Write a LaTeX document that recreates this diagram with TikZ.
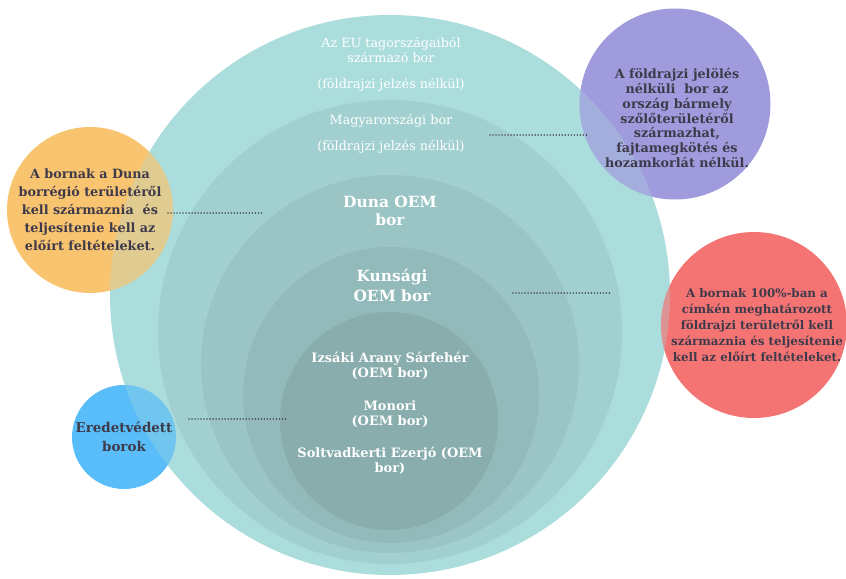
\documentclass[tikz,border=0pt]{standalone}
\usepackage{fontspec}
\setmainfont{DejaVu Serif}
\definecolor{ringA}{HTML}{ABDDDC}
\definecolor{ringB}{HTML}{A2D0D0}
\definecolor{ringC}{HTML}{9BC5C5}
\definecolor{ringD}{HTML}{93BABA}
\definecolor{ringE}{HTML}{88ADAC}
\definecolor{orangeC}{HTML}{F8C470}
\definecolor{purpleC}{HTML}{A09BDD}
\definecolor{redC}{HTML}{F47474}
\definecolor{blueC}{HTML}{58BDF8}
\definecolor{darktext}{HTML}{3E3A4A}
\begin{document}
\begin{tikzpicture}[x=1bp,y=-1bp,
  ringtext/.style={text=white, align=center, inner sep=0pt},
  smalltext/.style={ringtext, font=\fontsize{12.8}{12}\selectfont},
  midtext/.style={ringtext, font=\bfseries\fontsize{13}{15.5}\selectfont},
  bigtext/.style={ringtext, font=\bfseries\fontsize{15.5}{17.5}\selectfont},
  sidecircle/.style={circle, inner sep=0pt},
  sidetext/.style={text=darktext, align=center, inner sep=0pt},
  overlap/.style={ringA, opacity=0.3},
  dots/.style={draw=darktext, line width=1.4bp, dash pattern=on 0.01bp off 3bp, line cap=round}]
\useasboundingbox (0,0) rectangle (846,579);
% nested rings
\fill[ringA] (390,295) circle (280bp);
\fill[ringB] (390,332) circle (232bp);
\fill[ringC] (390,364) circle (189bp);
\fill[ringD] (391,395) circle (148bp);
\fill[ringE] (389,421) circle (109bp);
% ring labels
\node[smalltext] (eu) at (391,50) {Az EU tagországaiból\\származó bor};
\node[smalltext] (eunote) at (391,85) {(földrajzi jelzés nélkül)};
\node[smalltext] (hu) at (391,121) {Magyarországi bor};
\node[smalltext] (hunote) at (391,147) {(földrajzi jelzés nélkül)};
\node[bigtext] (duna) at (390,211) {Duna OEM\\bor};
\node[bigtext, font=\bfseries\fontsize{15.5}{20}\selectfont] (kun) at (392,285) {Kunsági\\OEM bor};
\node[midtext] (izs) at (390,366) {Izsáki Arany Sárfehér\\(OEM bor)};
\node[midtext] (mon) at (390,414) {Monori\\(OEM bor)};
\node[midtext] (sol) at (390,461) {Soltvadkerti Ezerjó (OEM\\bor)};
% side circles
\node[sidecircle, fill=orangeC, minimum size=166bp] (orange) at (90,210) {};
\node[sidecircle, fill=purpleC, minimum size=191bp] (purple) at (675,104) {};
\node[sidecircle, fill=redC, minimum size=186bp] (red) at (754,325) {};
\node[sidecircle, fill=blueC, minimum size=104bp] (blue) at (124,437) {};
% tint where side circles lie over the big ring
\begin{scope}
  \clip (orange.center) circle (83bp);
  \fill[overlap] (390,295) circle (280bp);
\end{scope}
\begin{scope}
  \clip (purple.center) circle (95.5bp);
  \fill[overlap] (390,295) circle (280bp);
\end{scope}
\begin{scope}
  \clip (red.center) circle (93bp);
  \fill[overlap] (390,295) circle (280bp);
\end{scope}
\begin{scope}
  \clip (blue.center) circle (52bp);
  \fill[overlap] (390,295) circle (280bp);
\end{scope}
\node[sidetext, font=\bfseries\fontsize{12.8}{18}\selectfont] (orangetxt) at (orange.center) {A bornak a Duna\\borrégió területéről\\kell származnia\ \ és\\teljesítenie kell az\\előírt feltételeket.};
\node[sidetext, font=\bfseries\fontsize{12.8}{15}\selectfont] (purpletxt) at (677,118) {A földrajzi jelölés\\nélküli\ \ bor az\\ország bármely\\szőlőterületéről\\származhat,\\fajtamegkötés és\\hozamkorlát nélkül.};
\node[sidetext, font=\bfseries\fontsize{11.9}{16.2}\selectfont] (redtxt) at (757,325) {A bornak 100\%-ban a\\címkén meghatározott\\földrajzi területről kell\\származnia és teljesítenie\\kell az előírt feltételeket.};
\node[sidetext, font=\bfseries\fontsize{13.5}{19}\selectfont] (bluetxt) at (blue.center) {Eredetvédett\\borok};
% dotted connectors
\coordinate (o1) at (168,213); \coordinate (o2) at (262,213);
\coordinate (p1) at (490,135); \coordinate (p2) at (588,135);
\coordinate (r1) at (513,293); \coordinate (r2) at (610,293);
\coordinate (b1) at (189,419); \coordinate (b2) at (287,419);
\draw[dots] (o1) -- (o2);
\draw[dots] (p1) -- (p2);
\draw[dots] (r1) -- (r2);
\draw[dots] (b1) -- (b2);
\end{tikzpicture}
\end{document}
